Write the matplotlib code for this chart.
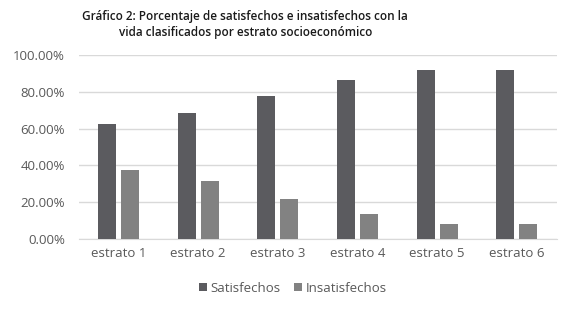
import matplotlib
matplotlib.use("Agg")
import matplotlib.pyplot as plt
import numpy as np

categories = ["estrato 1", "estrato 2", "estrato 3", "estrato 4", "estrato 5", "estrato 6"]
satisfechos = [0.625, 0.685, 0.78, 0.865, 0.92, 0.92]
insatisfechos = [0.375, 0.315, 0.22, 0.135, 0.08, 0.08]
yticks = [0, 0.2, 0.4, 0.6, 0.8, 1.0]
title = "Gráfico 2: Porcentaje de satisfechos e insatisfechos con la\nvida clasificados por estrato socioeconómico"

plt.rcParams['font.family'] = ['Open Sans', 'DejaVu Sans']

fig = plt.figure(figsize=(5.8, 3.2), dpi=100)
fig.patch.set_facecolor('white')
ax = fig.add_axes([0.1357, 0.253, 0.824, 0.575])

x = np.arange(len(categories))
w = 0.226
gap = 0.03
dark = '#5b5b5f'
light = '#828282'
ax.bar(x - w/2 - gap, satisfechos, w, color=dark, label='Satisfechos', zorder=3)
ax.bar(x + w/2 + gap, insatisfechos, w, color=light, label='Insatisfechos', zorder=3)

ax.set_xlim(-0.5, len(categories) - 0.5)
ax.set_ylim(0, 1.0)
ax.set_yticks(yticks)
ax.set_yticklabels([f"{v*100:.2f}%" for v in yticks])
ax.set_xticks(x)
ax.set_xticklabels(categories)
ax.yaxis.grid(True, color='#d9d9d9', linewidth=1.0, zorder=0)
ax.set_axisbelow(True)
for s in ['top', 'right', 'left']:
    ax.spines[s].set_visible(False)
ax.spines['bottom'].set_color('#d9d9d9')
ax.tick_params(axis='both', length=0, colors='#595959', labelsize=9.5)
ax.tick_params(axis='y', pad=10)
ax.tick_params(axis='x', pad=6)

fig.text(0.423, 0.97, title, ha='center', va='top', fontsize=8.5,
         fontweight='semibold', color='#1a1a1a', linespacing=1.3)

leg = fig.legend(loc='center', bbox_to_anchor=(0.505, 0.1), ncol=2, frameon=False,
                 fontsize=9.5, handlelength=0.6, handleheight=0.6, handletextpad=0.3,
                 columnspacing=1.0, labelcolor='#595959')

fig.savefig('out.png', dpi=100, facecolor='white')
